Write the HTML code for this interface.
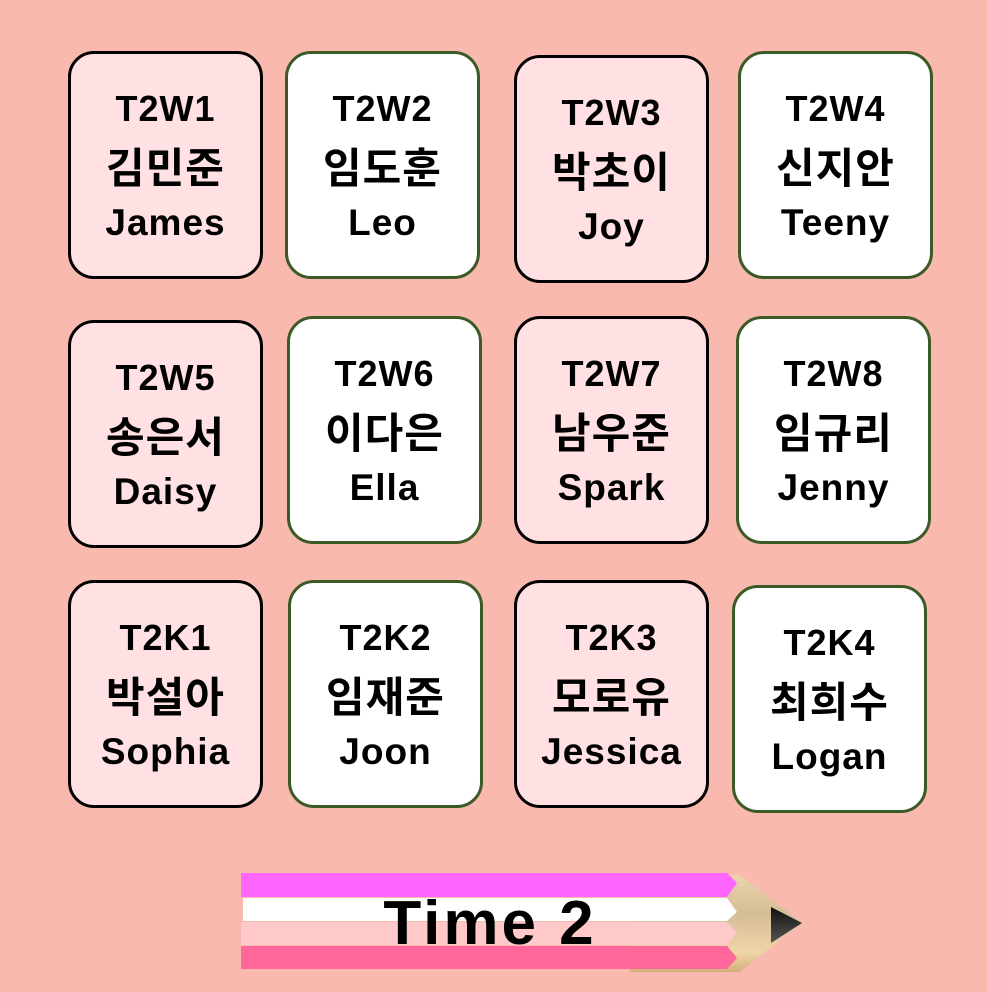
<!DOCTYPE html>
<html><head><meta charset="utf-8"><style>
body{margin:0;width:987px;height:992px;background:#F9B9AE;position:relative;overflow:hidden;font-family:"Liberation Sans","Noto Sans CJK KR",sans-serif;}
.c{position:absolute;box-sizing:border-box;width:195px;height:228px;border:3px solid #000;border-radius:26px;background:#FFE1E3;text-align:center;}
.g{border-color:#3B5A26;background:#fff;}
.c div{position:absolute;left:0;right:0;font-weight:bold;line-height:44px;color:#000;letter-spacing:1px;}
.a{top:33px;font-size:36px}.b{top:93px;font-size:42px}.d{top:147px;font-size:37px}
</style></head><body>
<div class="c" style="left:68px;top:51px"><div class="a">T2W1</div><div class="b">김민준</div><div class="d">James</div></div>
<div class="c g" style="left:285px;top:51px"><div class="a">T2W2</div><div class="b">임도훈</div><div class="d">Leo</div></div>
<div class="c" style="left:514px;top:55px"><div class="a">T2W3</div><div class="b">박초이</div><div class="d">Joy</div></div>
<div class="c g" style="left:738px;top:51px"><div class="a">T2W4</div><div class="b">신지안</div><div class="d">Teeny</div></div>
<div class="c" style="left:68px;top:320px"><div class="a">T2W5</div><div class="b">송은서</div><div class="d">Daisy</div></div>
<div class="c g" style="left:287px;top:316px"><div class="a">T2W6</div><div class="b">이다은</div><div class="d">Ella</div></div>
<div class="c" style="left:514px;top:316px"><div class="a">T2W7</div><div class="b">남우준</div><div class="d">Spark</div></div>
<div class="c g" style="left:736px;top:316px"><div class="a">T2W8</div><div class="b">임규리</div><div class="d">Jenny</div></div>
<div class="c" style="left:68px;top:580px"><div class="a">T2K1</div><div class="b">박설아</div><div class="d">Sophia</div></div>
<div class="c g" style="left:288px;top:580px"><div class="a">T2K2</div><div class="b">임재준</div><div class="d">Joon</div></div>
<div class="c" style="left:514px;top:580px"><div class="a">T2K3</div><div class="b">모로유</div><div class="d">Jessica</div></div>
<div class="c g" style="left:732px;top:585px"><div class="a">T2K4</div><div class="b">최희수</div><div class="d">Logan</div></div>
<svg style="position:absolute;left:0;top:0" width="987" height="992">
<defs><linearGradient id="w" x1="0" y1="0" x2="0" y2="1"><stop offset="0" stop-color="#EBD3AD"/><stop offset="0.4" stop-color="#D5BD98"/><stop offset="0.8" stop-color="#F0D4A8"/><stop offset="1" stop-color="#D4B07A"/></linearGradient>
<linearGradient id="k" x1="0" y1="0" x2="0" y2="1"><stop offset="0" stop-color="#111"/><stop offset="1" stop-color="#555"/></linearGradient></defs>
<polygon points="630,875 740,875 802,923 740,972 630,972" fill="url(#w)"/>
<polygon points="771,907 802,923 771,943" fill="url(#k)"/>
<polygon points="241,873 727,873 737,883 727,897 241,897" fill="#FF66FF"/>
<polygon points="243,898 727,898 737,912 727,921 243,921" fill="#FFFFFF"/>
<polygon points="241,922 727,922 737,933 727,945 241,945" fill="#FFC9C9"/>
<polygon points="241,946 727,946 737,958 727,969 241,969" fill="#FF6699"/>
<text x="490" y="944" text-anchor="middle" font-family="Liberation Sans, sans-serif" font-weight="bold" font-size="62" letter-spacing="3" fill="#000">Time 2</text>
</svg>
</body></html>
